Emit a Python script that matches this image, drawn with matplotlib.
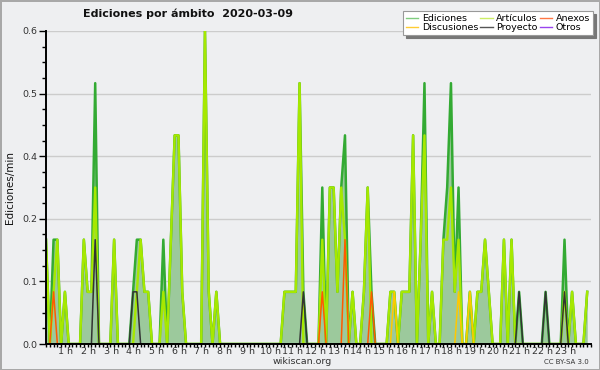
import matplotlib
matplotlib.use("Agg")
import matplotlib.pyplot as plt
import numpy as np
from matplotlib.lines import Line2D
from matplotlib.transforms import ScaledTranslation

# ediciones por minuto, tramos de 10 min (12 valores = 2 horas por fila)
ediciones = [
    0.2, 0, 0.2, 0.2, 0, 0.1, 0, 0, 0, 0, 0.2, 0.1,
    0.1, 0.5, 0, 0, 0, 0, 0.2, 0, 0, 0, 0, 0.1,
    0.2, 0.2, 0.1, 0.1, 0, 0, 0, 0.2, 0, 0.2, 0.4, 0.4,
    0.1, 0, 0, 0, 0, 0, 0.6, 0.1, 0, 0.1, 0, 0,
    0, 0, 0, 0, 0, 0, 0, 0, 0, 0, 0, 0,
    0, 0, 0, 0.1, 0.1, 0.1, 0.1, 0.5, 0.1, 0, 0, 0,
    0, 0.3, 0, 0.3, 0.3, 0.1, 0.3, 0.4, 0, 0.1, 0, 0,
    0.1, 0.3, 0.1, 0, 0, 0, 0, 0.1, 0.1, 0, 0.1, 0.1,
    0.1, 0.4, 0, 0.2, 0.5, 0, 0.1, 0, 0, 0.2, 0.3, 0.5,
    0.1, 0.3, 0, 0, 0.1, 0, 0.1, 0.1, 0.2, 0.1, 0, 0,
    0, 0.2, 0, 0.2, 0, 0.1, 0, 0, 0, 0, 0, 0,
    0.1, 0, 0, 0, 0, 0.2, 0, 0.1, 0, 0, 0, 0.1,
]
articulos = [
    0.2, 0, 0.1, 0.2, 0, 0.1, 0, 0, 0, 0, 0.2, 0.1,
    0.1, 0.3, 0, 0, 0, 0, 0.2, 0, 0, 0, 0, 0,
    0.1, 0.2, 0.1, 0.1, 0, 0, 0, 0.1, 0, 0.2, 0.4, 0.4,
    0.1, 0, 0, 0, 0, 0, 0.6, 0.1, 0, 0.1, 0, 0,
    0, 0, 0, 0, 0, 0, 0, 0, 0, 0, 0, 0,
    0, 0, 0, 0.1, 0.1, 0.1, 0.1, 0.5, 0, 0, 0, 0,
    0, 0.2, 0, 0.3, 0.3, 0.1, 0.3, 0.2, 0, 0.1, 0, 0,
    0.1, 0.3, 0, 0, 0, 0, 0, 0.1, 0.1, 0, 0.1, 0.1,
    0.1, 0.4, 0, 0.2, 0.4, 0, 0.1, 0, 0, 0.2, 0.2, 0.3,
    0.1, 0.2, 0, 0, 0.1, 0, 0.1, 0.1, 0.2, 0.1, 0, 0,
    0, 0.2, 0, 0.2, 0, 0, 0, 0, 0, 0, 0, 0,
    0, 0, 0, 0, 0, 0.1, 0, 0.1, 0, 0, 0, 0.1,
]
# series casi vacías: {tramo: valor}
anexos = {2: 0.1, 73: 0.1, 79: 0.2, 86: 0.1}
discusiones = {92: 0.1, 109: 0.1, 112: 0.1}
proyecto = {13: 0.2, 23: 0.1, 24: 0.1, 68: 0.1, 125: 0.1, 132: 0.1, 137: 0.1}
otros = {}

hour_ticks = list(range(1, 24))
y_ticks = [0, 0.12, 0.24, 0.36, 0.48, 0.6]

N = len(ediciones)
x = np.arange(N) / 6.0


def dense(d):
    v = np.zeros(N)
    for k, val in d.items():
        v[k] = val
    return v


BG = "#eeeff1"
fig = plt.figure(figsize=(6, 3.7), dpi=100)
fig.patch.set_facecolor(BG)
fig.patch.set_edgecolor("#a8a8a8")
fig.patch.set_linewidth(2)
ax = fig.add_axes([46 / 600, 1 - 344 / 370, (591 - 46) / 600, (344 - 31) / 370])
ax.set_facecolor(BG)

ax.fill_between(x, ediciones, color="#9cc99c", lw=0, zorder=1)
ax.plot(x, ediciones, color="#33aa33", lw=1.8, zorder=1.5)
ax.plot(x, articulos, color="#a6e800", lw=1.7, zorder=1.6)
ax.plot(x, dense(anexos), color="#ff5a00", lw=1.1, zorder=1.7)
ax.plot(x, dense(discusiones), color="#ffc800", lw=1.1, zorder=1.7)
ax.plot(x, dense(proyecto), color="#333333", lw=1.1, zorder=1.8)
ax.plot(x, dense(otros), color="#9933ff", lw=1.0, zorder=1.0)

ax.set_xlim(0, 24)
ax.set_ylim(0, 0.6)
for s in ("top", "right"):
    ax.spines[s].set_visible(False)
for s in ("left", "bottom"):
    ax.spines[s].set_linewidth(1.4)
    ax.spines[s].set_zorder(3)

ax.set_yticks(y_ticks)
ax.set_yticklabels([f"{v:.1f}" for v in y_ticks])
ax.set_yticks(np.arange(0, 0.6, 0.03), minor=True)
ax.set_xticks(hour_ticks)
ax.set_xticklabels([f"{h} h" for h in hour_ticks])
ax.set_xticks(np.arange(0, 24.01, 1 / 6), minor=True)
ax.tick_params(axis="both", which="both", direction="out", width=1, color="black",
               labelsize=6.8, labelcolor="#333333")
ax.tick_params(axis="y", which="major", length=5, pad=1.5)
ax.tick_params(axis="y", which="minor", length=3)
ax.tick_params(axis="x", which="both", length=2.5, pad=0)
for lab in ax.get_xticklabels():
    lab.set_transform(lab.get_transform() + ScaledTranslation(-3 / 100, 0, fig.dpi_scale_trans))
ax.yaxis.grid(True, color="#cccccc", lw=1)
ax.set_axisbelow(True)

fig.text(188 / 600, 1 - 14 / 370, "Ediciones por ámbito  2020-03-09", ha="center", va="center",
         fontsize=8, fontweight="bold", color="#111111")
fig.text(10 / 600, 1 - 188 / 370, "Ediciones/min", rotation=90, ha="center", va="center",
         fontsize=7.5, color="#111111")
fig.text(302 / 600, 1 - 361 / 370, "wikiscan.org", ha="center", va="center", fontsize=6.8, color="#333333")
fig.text(589 / 600, 1 - 362 / 370, "CC BY-SA 3.0", ha="right", va="center", fontsize=5, color="#333333")

handles = [
    Line2D([], [], color="#7fcc7f", lw=1, label="Ediciones"),
    Line2D([], [], color="#ffcc33", lw=1, label="Discusiones"),
    Line2D([], [], color="#ccee66", lw=1, label="Artículos"),
    Line2D([], [], color="#555555", lw=1, label="Proyecto"),
    Line2D([], [], color="#ff7744", lw=1, label="Anexos"),
    Line2D([], [], color="#9944ee", lw=1, label="Otros"),
]
leg = fig.legend(handles=handles, ncol=3, loc="upper right", bbox_to_anchor=(593 / 600, 1 - 11 / 370),
                 fontsize=6.8, frameon=True, fancybox=False, shadow={"color": "#777777", "alpha": 1},
                 handlelength=1.3, handletextpad=0.4, columnspacing=0.2, labelspacing=0.05,
                 borderpad=0.3, borderaxespad=0)
leg.get_frame().set_edgecolor("#999999")
leg.get_frame().set_linewidth(0.8)

fig.savefig("out.png", dpi=100, facecolor=fig.get_facecolor(), edgecolor=fig.get_edgecolor())
